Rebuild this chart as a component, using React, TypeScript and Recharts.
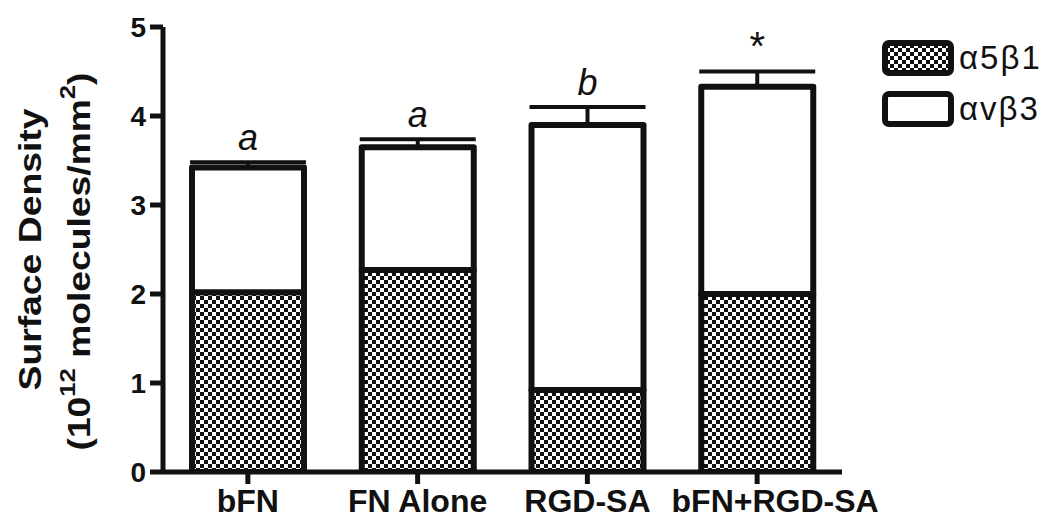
import React from "react";
import { BarChart, Bar, XAxis, YAxis, ErrorBar, LabelList } from "recharts";

const categories = ["bFN", "FN Alone", "RGD-SA", "bFN+RGD-SA"];
const a5b1 = [2.02, 2.27, 0.92, 2.0];
const avb3 = [1.4, 1.38, 2.98, 2.33];
const errUp = [0.06, 0.09, 0.2, 0.17];
const notes = ["a", "a", "b", "*"];
const yTicks = [0, 1, 2, 3, 4, 5];

const data = categories.map((name, i) => ({
  name,
  a5b1: a5b1[i],
  avb3: avb3[i],
  err: [0, errUp[i]],
  note: notes[i],
}));

const INK = "#111";
const FONT = "'Liberation Sans', Arial, sans-serif";

// y title, two rotated lines (stretched a little, like the original figure)
const YTitle = (props: any) => {
  const vb = props.viewBox || {};
  const mid = vb.y + vb.height / 2;
  const c1 = mid;
  const c2 = mid + 12;
  return (
    <g fill={INK} fontFamily={FONT} fontWeight="bold" fontSize={32}>
      <text
        x={30}
        y={c1}
        textAnchor="middle"
        dominantBaseline="central"
        textLength={282}
        lengthAdjust="spacingAndGlyphs"
        transform={`rotate(-90, 30, ${c1})`}
      >
        Surface Density
      </text>
      <text
        x={79}
        y={c2}
        textAnchor="middle"
        dominantBaseline="central"
        textLength={378}
        lengthAdjust="spacingAndGlyphs"
        transform={`rotate(-90, 79, ${c2})`}
      >
        (10<tspan fontSize={22} dy={-12}>12</tspan>
        <tspan dy={12}> molecules/mm</tspan>
        <tspan fontSize={22} dy={-12}>2</tspan>
        <tspan dy={12}>)</tspan>
      </text>
    </g>
  );
};

const CatTick = (props: any) => {
  const { x, y, payload, index } = props;
  const dx = index === categories.length - 1 ? 18 : 0;
  return (
    <text x={x + dx} y={y + 26} textAnchor="middle" fill={INK} fontFamily={FONT} fontWeight="bold" fontSize={32}>
      {payload.value}
    </text>
  );
};

const Note = (props: any) => {
  const { x, y, width, height, value, index } = props;
  const perUnit = height / avb3[index];
  const capY = y - errUp[index] * perUnit;
  return (
    <text
      x={x + width / 2}
      y={capY - 12}
      textAnchor="middle"
      fill={INK}
      fontFamily={FONT}
      fontStyle={value === "*" ? "normal" : "italic"}
      fontSize={value === "*" ? 40 : 36}
    >
      {value}
    </text>
  );
};

const Swatch = ({ patterned }: { patterned: boolean }) => (
  <svg width={72} height={36} style={{ display: "block" }}>
    <defs>
      <pattern id="legendChecker" width={8} height={8} patternUnits="userSpaceOnUse">
        <rect width={8} height={8} fill="#fff" />
        <rect width={4} height={4} fill={INK} />
        <rect x={4} y={4} width={4} height={4} fill={INK} />
      </pattern>
    </defs>
    <rect x={3} y={3} width={66} height={30} rx={4} fill={patterned ? "url(#legendChecker)" : "#fff"} stroke={INK} strokeWidth={6} />
  </svg>
);

const legendItems = [
  { label: "\u03b15\u03b21", patterned: true },
  { label: "\u03b1v\u03b23", patterned: false },
];

export default function App() {
  return (
    <div style={{ position: "absolute", left: 0, top: 0, width: 1046, height: 520, background: "#fff" }}>
      <BarChart width={1046} height={520} data={data} margin={{ top: 27, right: 204, bottom: 0, left: 0 }} barSize={112}>
        <defs>
          <pattern id="checker" width={8} height={8} patternUnits="userSpaceOnUse">
            <rect width={8} height={8} fill="#fff" />
            <rect width={4} height={4} fill={INK} />
            <rect x={4} y={4} width={4} height={4} fill={INK} />
          </pattern>
        </defs>
        <XAxis
          dataKey="name"
          height={48}
          axisLine={{ stroke: INK, strokeWidth: 5 }}
          tickLine={{ stroke: INK, strokeWidth: 5 }}
          tickSize={12}
          tick={<CatTick />}
          interval={0}
        />
        <YAxis
          width={163}
          domain={[0, 5]}
          ticks={yTicks}
          allowDataOverflow
          axisLine={{ stroke: INK, strokeWidth: 5 }}
          tickLine={{ stroke: INK, strokeWidth: 5 }}
          tickSize={13}
          tickMargin={4}
          tick={{ fill: INK, fontSize: 28, fontWeight: "bold", fontFamily: FONT }}
          label={<YTitle />}
        />
        <Bar dataKey="a5b1" stackId="s" fill="url(#checker)" stroke={INK} strokeWidth={6} strokeLinejoin="round" isAnimationActive={false} />
        <Bar dataKey="avb3" stackId="s" fill="#fff" stroke={INK} strokeWidth={6} strokeLinejoin="round" isAnimationActive={false}>
          <ErrorBar dataKey="err" width={58} stroke={INK} strokeWidth={4} direction="y" />
          <LabelList dataKey="note" content={<Note />} />
        </Bar>
      </BarChart>
      <div style={{ position: "absolute", left: 882, top: 40, fontFamily: FONT, color: INK }}>
        {legendItems.map((it) => (
          <div key={it.label} style={{ display: "flex", alignItems: "center", height: 36, marginBottom: 15 }}>
            <Swatch patterned={it.patterned} />
            <span style={{ fontSize: 33, marginLeft: 5, lineHeight: "36px", letterSpacing: 2 }}>{it.label}</span>
          </div>
        ))}
      </div>
    </div>
  );
}
